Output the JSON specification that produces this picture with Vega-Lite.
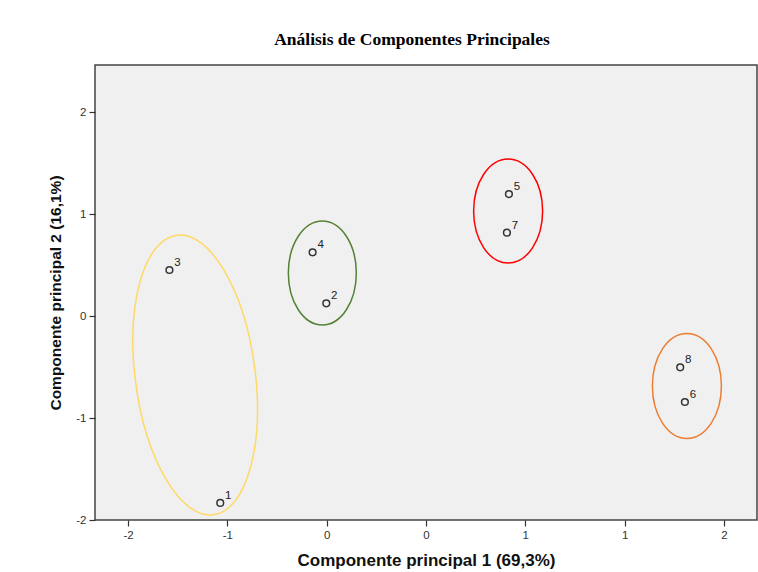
{
  "$schema": "https://vega.github.io/schema/vega-lite/v6.json",
  "width": 662,
  "height": 455,
  "autosize": {"type": "none"},
  "padding": {"left": 95, "top": 65, "right": 1, "bottom": 52},
  "background": "white",
  "title": {
    "text": "Análisis de Componentes Principales",
    "font": "Liberation Serif",
    "fontSize": 17.5,
    "fontWeight": "bold",
    "color": "#000",
    "anchor": "middle",
    "dx": -14,
    "offset": 17
  },
  "datasets": {
    "puntos": [
      {"caso": "1", "cp1": -1.036, "cp2": -1.833},
      {"caso": "2", "cp1": -0.502, "cp2": 0.124},
      {"caso": "3", "cp1": -1.292, "cp2": 0.451},
      {"caso": "4", "cp1": -0.571, "cp2": 0.624},
      {"caso": "5", "cp1": 0.4175, "cp2": 1.196},
      {"caso": "6", "cp1": 1.3036, "cp2": -0.843},
      {"caso": "7", "cp1": 0.4075, "cp2": 0.817},
      {"caso": "8", "cp1": 1.28, "cp2": -0.503}
    ],
    "grupos": [
      {"grupo": "amarillo", "cx": -1.1624, "cy": -0.578},
      {"grupo": "verde", "cx": -0.522, "cy": 0.4216},
      {"grupo": "rojo", "cx": 0.4135, "cy": 1.029},
      {"grupo": "naranja", "cx": 1.3137, "cy": -0.686}
    ]
  },
  "config": {
    "view": {"fill": "#f0f0f0", "stroke": "#444", "strokeWidth": 1.5},
    "axis": {
      "grid": false,
      "domain": false,
      "labelFont": "Liberation Sans",
      "labelFontSize": 11.5,
      "labelColor": "#333",
      "tickColor": "#333",
      "tickSize": 6,
      "tickWidth": 1.2,
      "titleFont": "Liberation Sans",
      "titleFontWeight": "bold",
      "titleColor": "#111"
    }
  },
  "layer": [
    {
      "data": {"name": "grupos"},
      "transform": [{"filter": "datum.grupo == 'amarillo'"}],
      "mark": {"type": "point", "shape": "M0,-141A60,141 0 1,1 0,141A60,141 0 1,1 0,-141Z", "size": 4, "angle": 352.5, "filled": false, "stroke": "#FFD966", "strokeWidth": 1.5, "opacity": 1},
      "encoding": {
        "x": {"field": "cx", "type": "quantitative"},
        "y": {"field": "cy", "type": "quantitative"}
      }
    },
    {
      "data": {"name": "grupos"},
      "transform": [{"filter": "datum.grupo == 'verde'"}],
      "mark": {"type": "point", "shape": "M0,-52A34,52 0 1,1 0,52A34,52 0 1,1 0,-52Z", "size": 4, "filled": false, "stroke": "#548235", "strokeWidth": 1.5, "opacity": 1},
      "encoding": {
        "x": {"field": "cx", "type": "quantitative"},
        "y": {"field": "cy", "type": "quantitative"}
      }
    },
    {
      "data": {"name": "grupos"},
      "transform": [{"filter": "datum.grupo == 'rojo'"}],
      "mark": {"type": "point", "shape": "M0,-52A34.5,52 0 1,1 0,52A34.5,52 0 1,1 0,-52Z", "size": 4, "filled": false, "stroke": "#FF0000", "strokeWidth": 1.5, "opacity": 1},
      "encoding": {
        "x": {"field": "cx", "type": "quantitative"},
        "y": {"field": "cy", "type": "quantitative"}
      }
    },
    {
      "data": {"name": "grupos"},
      "transform": [{"filter": "datum.grupo == 'naranja'"}],
      "mark": {"type": "point", "shape": "M0,-52.5A34.5,52.5 0 1,1 0,52.5A34.5,52.5 0 1,1 0,-52.5Z", "size": 4, "filled": false, "stroke": "#ED7D31", "strokeWidth": 1.5, "opacity": 1},
      "encoding": {
        "x": {"field": "cx", "type": "quantitative"},
        "y": {"field": "cy", "type": "quantitative"}
      }
    },
    {
      "mark": {"type": "rule", "color": "#333", "strokeWidth": 1.5, "strokeDash": [3, 2]},
      "encoding": {"x": {"datum": 0, "type": "quantitative"}}
    },
    {
      "mark": {"type": "rule", "color": "#333", "strokeWidth": 1.5, "strokeDash": [3, 2]},
      "encoding": {"y": {"datum": 0, "type": "quantitative"}}
    },
    {
      "data": {"name": "puntos"},
      "mark": {"type": "point", "shape": "circle", "size": 45, "filled": false, "stroke": "#333", "strokeWidth": 1.5, "opacity": 1},
      "encoding": {
        "x": {
          "field": "cp1",
          "type": "quantitative",
          "scale": {"domain": [-1.6667, 1.6667], "nice": false, "zero": false},
          "axis": {
            "title": "Componente principal 1 (69,3%)",
            "titleFontSize": 17,
            "values": [-1.5, -1, -0.5, 0, 0.5, 1, 1.5],
            "labelExpr": "datum.value < -1.2 ? '-2' : datum.value < -0.7 ? '-1' : datum.value < 0.3 ? '0' : datum.value < 1.2 ? '1' : '2'",
            "labelPadding": 3,
            "titlePadding": 12
          }
        },
        "y": {
          "field": "cp2",
          "type": "quantitative",
          "scale": {"domain": [-2, 2.461], "nice": false, "zero": false},
          "axis": {
            "title": "Componente principal 2 (16,1%)",
            "titleFontSize": 15.5,
            "values": [-2, -1, 0, 1, 2],
            "labelExpr": "toString(datum.value)",
            "labelPadding": 3,
            "titlePadding": 12
          }
        }
      }
    },
    {
      "data": {"name": "puntos"},
      "mark": {"type": "text", "font": "Liberation Sans", "fontSize": 11.5, "color": "#222", "dx": 8, "dy": -7},
      "encoding": {
        "x": {"field": "cp1", "type": "quantitative"},
        "y": {"field": "cp2", "type": "quantitative"},
        "text": {"field": "caso"}
      }
    }
  ]
}
